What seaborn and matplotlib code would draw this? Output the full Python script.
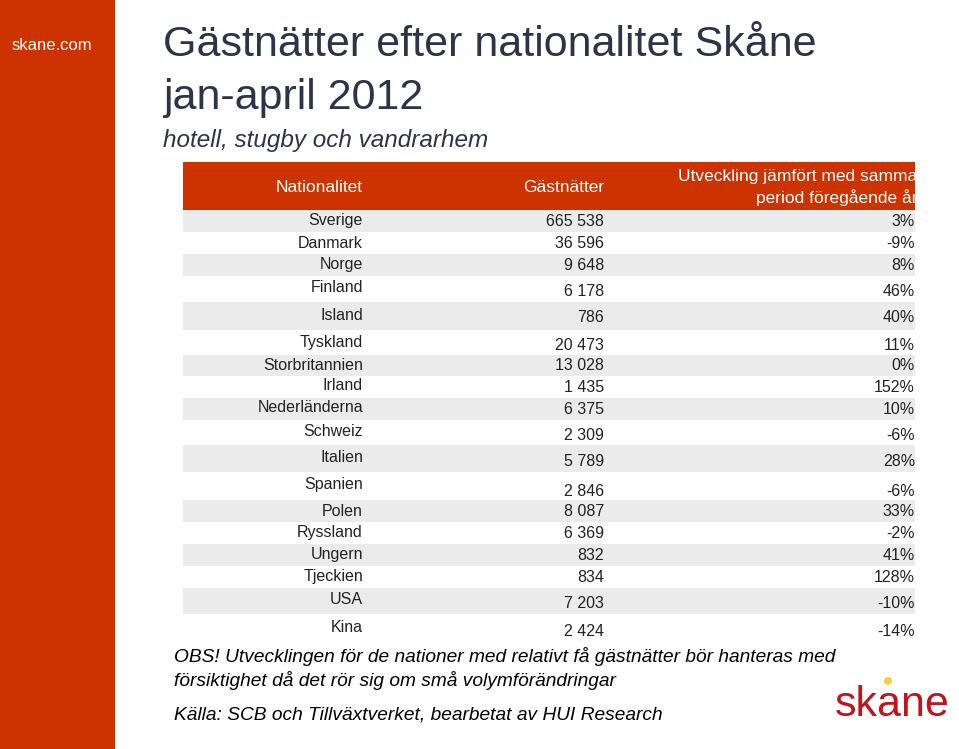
import matplotlib
matplotlib.use("Agg")
import matplotlib.pyplot as plt
import seaborn as sns

sns.set_theme(style="white", font="Liberation Sans")

countries = ["Sverige", "Danmark", "Norge", "Finland", "Island", "Tyskland", "Storbritannien",
             "Irland", "Nederländerna", "Schweiz", "Italien", "Spanien", "Polen", "Ryssland",
             "Ungern", "Tjeckien", "USA", "Kina"]
nights = ["665 538", "36 596", "9 648", "6 178", "786", "20 473", "13 028", "1 435", "6 375",
          "2 309", "5 789", "2 846", "8 087", "6 369", "832", "834", "7 203", "2 424"]
change = ["3%", "-9%", "8%", "46%", "40%", "11%", "0%", "152%", "10%", "-6%", "28%", "-6%",
          "33%", "-2%", "41%", "128%", "-10%", "-14%"]

# layout (pixels)
band_edges = [210, 232, 254, 276, 302, 330, 355, 376, 398, 420, 445, 472, 500, 522, 544, 566, 588, 614, 645]
label_y = [221, 243, 265, 288, 315, 342, 365, 386, 408, 432, 457, 485, 511, 533, 554, 576, 599, 627]
value_y = [221, 243, 265, 291, 318, 345, 366, 388, 410, 436, 462, 491, 512, 534, 555, 577, 604, 632]

RED = "#CC3300"
TITLE = "#2B3448"
fig = plt.figure(figsize=(9.59, 7.49), dpi=100)
ax = fig.add_axes([0, 0, 1, 1])
ax.set_xlim(0, 959)
ax.set_ylim(749, 0)
ax.axis("off")

ax.add_patch(plt.Rectangle((0, 0), 115, 749, color=RED, lw=0))
ax.text(52, 45, "skane.com", color="white", fontsize=12, ha="center", va="center")
ax.text(163, 45, "Gästnätter efter nationalitet Skåne", fontsize=31, color=TITLE, va="center")
ax.text(163, 98, "jan-april 2012", fontsize=31, color=TITLE, va="center")
ax.text(163, 140, "hotell, stugby och vandrarhem", fontsize=17.5, style="italic", color=TITLE, va="center")

ax.add_patch(plt.Rectangle((183, 162), 732, 48, color=RED, lw=0))
ax.text(363, 187, "Nationalitet", color="white", fontsize=12.5, ha="right", va="center")
ax.text(604, 187, "Gästnätter", color="white", fontsize=12.5, ha="right", va="center")
t1 = ax.text(917, 176, "Utveckling jämfört med samma", color="white", fontsize=12.5, ha="right", va="center")
t2 = ax.text(917, 198, "period föregående år", color="white", fontsize=12.5, ha="right", va="center")
clip = plt.Rectangle((183, 162), 732, 48, transform=ax.transData)
t1.set_clip_path(clip)
t2.set_clip_path(clip)

for i, c in enumerate(countries):
    if i % 2 == 0:
        ax.add_patch(plt.Rectangle((183, band_edges[i]), 732, band_edges[i + 1] - band_edges[i],
                                   color="#EBEBEB", lw=0))
    ax.text(363, label_y[i], c, fontsize=11.5, ha="right", va="center", color="#222222")
    ax.text(604, value_y[i], nights[i], fontsize=11.5, ha="right", va="center", color="#222222")
    ax.text(915, value_y[i], change[i], fontsize=11.5, ha="right", va="center", color="#222222")

ax.text(174, 657, "OBS! Utvecklingen för de nationer med relativt få gästnätter bör hanteras med",
        fontsize=13.8, style="italic", va="center", color="black")
ax.text(174, 681, "försiktighet då det rör sig om små volymförändringar",
        fontsize=13.8, style="italic", va="center", color="black")
ax.text(174, 715, "Källa: SCB och Tillväxtverket, bearbetat av HUI Research",
        fontsize=13.8, style="italic", va="center", color="black")

ax.text(892, 705, "skane", fontsize=31, color="#C0141E", ha="center", va="center")
ax.add_patch(plt.Circle((888, 681), 4, color="#F5D040", lw=0))

fig.savefig("out.png", dpi=100)
